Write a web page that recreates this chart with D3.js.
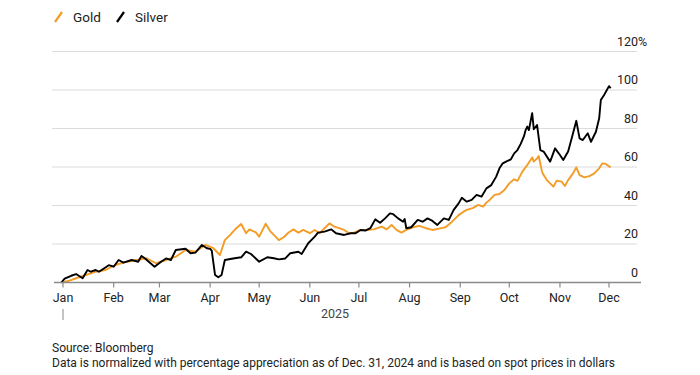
<!DOCTYPE html>
<html><head><meta charset="utf-8">
<script src="https://cdn.jsdelivr.net/npm/d3@7.9.0/dist/d3.min.js"></script>
<style>
body{margin:0;background:#fff;}
svg{display:block;font-family:Roboto,"Liberation Sans",sans-serif;}
</style></head>
<body><svg width="700" height="375"></svg>
<script>
// values (percent change since Dec. 31, 2024)
const silverDates=["2024-12-31","01-02","01-06","01-09","01-13","01-16","01-18","01-21","01-23","01-29","02-01","02-04","02-07","02-12","02-16","02-18","02-20","02-26","03-02","03-05","03-08","03-11","03-17","03-20","03-23","03-27","03-30","04-01","04-02","04-04","04-06","04-08","04-10","04-16","04-20","04-23","04-26","05-01","05-06","05-10","05-13","05-17","05-20","05-25","05-27","05-31","06-04","06-06","06-10","06-14","06-17","06-22","06-26","06-29","07-02","07-05","07-08","07-11","07-14","07-17","07-20","07-22","07-25","07-28","07-29","07-30","08-02","08-06","08-09","08-12","08-15","08-18","08-22","08-25","08-28","08-31","09-02","09-05","09-08","09-11","09-14","09-17","09-20","09-23","09-25","09-27","09-29","10-02","10-04","10-06","10-08","10-10","10-11","10-12","10-13","10-15","10-16","10-18","10-20","10-22","10-26","10-29","11-01","11-03","11-06","11-09","11-11","11-13","11-15","11-18","11-20","11-23","11-25","11-26","11-28","12-01","12-02"];
const silverValues=[0,2,3.5,4.4,2.2,6.5,5.6,6.5,5.6,9,8.2,11.7,10.3,11.7,10.8,13.8,12.6,8.2,10.8,12.5,11.7,16.9,17.5,15.2,15.5,19.5,17.8,17.5,16.5,3.9,2.7,3.9,11.7,12.6,13.1,16,14.8,10.8,13.1,12.6,12,12.5,15.2,16,14.8,20.4,23.8,25.9,26.4,27.6,25.6,24.7,25.6,25.6,27.3,27,28.2,32.8,31,33.3,35.9,35.5,33.3,31.6,33,28.2,28.7,32.5,31.6,33.3,32,29.9,33.3,32.5,37.7,41.1,44,42,42.9,45.5,44.6,48.9,50.6,55,59.3,61.9,62.8,64,67.1,68.8,72,76,79.2,81,79.2,88,79.6,81.8,68.8,68,62.8,69.7,66.2,63.6,68,77.5,84,74.9,74,77.5,73.1,78.3,85.3,94.8,97.4,102,100.9];
const goldDates=["2024-12-31","01-05","01-09","01-15","01-21","01-27","02-02","02-09","02-15","02-21","02-27","03-05","03-11","03-17","03-23","03-29","04-03","04-07","04-10","04-13","04-17","04-20","04-23","04-25","04-29","05-01","05-05","05-08","05-11","05-13","05-16","05-19","05-22","05-25","05-28","06-01","06-04","06-07","06-10","06-13","06-16","06-19","06-22","06-25","06-28","07-02","07-06","07-10","07-15","07-18","07-21","07-24","07-27","07-30","08-03","08-07","08-11","08-15","08-19","08-23","08-27","08-31","09-03","09-05","09-09","09-12","09-15","09-17","09-19","09-22","09-25","09-28","10-01","10-04","10-06","10-09","10-12","10-14","10-15","10-16","10-18","10-19","10-21","10-22","10-24","10-28","10-30","11-02","11-04","11-06","11-09","11-11","11-13","11-16","11-19","11-22","11-25","11-27","11-29","12-02"];
const goldValues=[0,1,2.2,3.9,5.6,6.5,9.1,10.8,11.7,12.6,10,11.7,13.4,16.9,16,19.5,17.8,14.3,22,24.5,28.2,30.4,25.6,27.6,26,23.8,30.5,26.4,23.8,22,23.5,26,27.6,25.9,27.3,25.6,27.3,25.6,28.2,30.7,29,28.2,27.3,25.6,25.9,27.3,27.3,27.6,29,27.6,29.9,27.3,25.9,27.3,28.7,29.4,28.2,27.3,28,28.7,31.6,35,36.8,37.7,38.8,40.3,39.4,41.5,42.9,45.5,46,48,51.5,53.6,52.8,57.6,61,63.6,65,62.8,64.5,65.7,57.6,55.8,53.2,49.8,52.9,52.4,50.1,53.2,56.7,59.8,55.8,54.6,55.3,56.7,59.3,61.9,61.6,59.8];
const monthLabels=["Jan","Feb","Mar","Apr","May","Jun","Jul","Aug","Sep","Oct","Nov","Dec"];
const yTicks=[0,20,40,60,80,100,120];
const seriesNames=["Gold","Silver"];
const seriesColors=["#f39c26","#000000"];

const parse=s=>d3.timeParse("%Y-%m-%d")(s.length===5?"2025-"+s:s);
const gold=goldDates.map((d,i)=>({date:parse(d),v:goldValues[i]}));
const silver=silverDates.map((d,i)=>({date:parse(d),v:silverValues[i]}));

const svg=d3.select("svg");
const x=d3.scaleTime().domain([new Date(2025,0,1),new Date(2025,11,1)]).range([63,609]);
const y=d3.scaleLinear().domain([0,120]).range([282.5,51.5]);

// grid
svg.append("g").selectAll("line").data(yTicks.filter(t=>t>0)).enter().append("line")
 .attr("x1",52).attr("x2",637).attr("y1",d=>y(d)).attr("y2",d=>y(d))
 .attr("stroke","#dcdcdc").attr("stroke-width",1.2);
svg.append("g").selectAll("text").data(yTicks).enter().append("text")
 .attr("x",638).attr("y",d=>y(d)-6).attr("text-anchor","end")
 .attr("font-size",12.5).attr("fill","#222").text(d=>d);
svg.append("text").attr("x",638).attr("y",y(120)-6).attr("font-size",12.5).attr("fill","#222").text("%");

// lines
const line=d3.line().x(d=>x(d.date)).y(d=>y(d.v)).curve(d3.curveLinear);
[gold,silver].forEach((s,i)=>svg.append("path").datum(s).attr("d",line)
 .attr("fill","none").attr("stroke",seriesColors[i]).attr("stroke-width",1.9).attr("stroke-linejoin","round"));

// x axis
const months=monthLabels.map((m,i)=>new Date(2025,i,1));
svg.append("line").attr("x1",54).attr("x2",641).attr("y1",y(0)).attr("y2",y(0)).attr("stroke","#8a8a8a").attr("stroke-width",1.3);
svg.append("g").selectAll("line").data(months).enter().append("line")
 .attr("x1",d=>x(d)).attr("x2",d=>x(d)).attr("y1",y(0)).attr("y2",y(0)+5).attr("stroke","#8a8a8a").attr("stroke-width",1.2);
svg.append("g").selectAll("text").data(months).enter().append("text")
 .attr("x",d=>x(d)).attr("y",302).attr("text-anchor","middle").attr("font-size",12.5).attr("fill","#222")
 .text((d,i)=>monthLabels[i]);
svg.append("line").attr("x1",x(months[0])).attr("x2",x(months[0])).attr("y1",309).attr("y2",320).attr("stroke","#8a8a8a").attr("stroke-width",1);
svg.append("text").attr("x",335).attr("y",318).attr("text-anchor","middle").attr("font-size",12.5).attr("fill","#444").text("2025");

// legend
const leg=svg.append("g");
[[55,"Gold"],[117,"Silver"]].forEach(([lx,t],i)=>{
 leg.append("line").attr("x1",lx).attr("y1",22).attr("x2",lx+7).attr("y2",12).attr("stroke",seriesColors[i]).attr("stroke-width",2.2);
 leg.append("text").attr("x",lx+18).attr("y",22).attr("font-size",13.5).attr("fill","#222").text(seriesNames[i]);
});

// notes
svg.append("text").attr("x",52).attr("y",352).attr("font-size",12).attr("fill","#222").text("Source: Bloomberg");
svg.append("text").attr("x",52).attr("y",367).attr("font-size",12).attr("fill","#222")
 .text("Data is normalized with percentage appreciation as of Dec. 31, 2024 and is based on spot prices in dollars");
</script></body></html>
